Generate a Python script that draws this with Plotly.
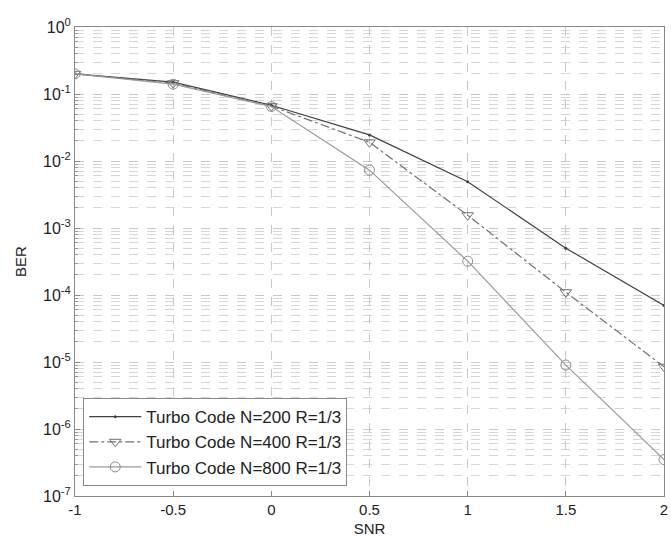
import plotly.graph_objects as go

snr = [-1, -0.5, 0, 0.5, 1, 1.5, 2]
ber_n200 = [0.20, 0.15, 0.068, 0.0245, 0.0049, 5.0e-4, 7.0e-5]
ber_n400 = [0.20, 0.145, 0.066, 0.019, 0.00155, 1.1e-4, 8.5e-6]
ber_n800 = [0.20, 0.14, 0.065, 0.0073, 3.2e-4, 9.0e-6, 3.5e-7]

names = ["Turbo Code N=200 R=1/3", "Turbo Code N=400 R=1/3", "Turbo Code N=800 R=1/3"]
ytick_vals = [1e-7, 1e-6, 1e-5, 1e-4, 1e-3, 1e-2, 1e-1, 1e0]
ytick_text = ["10<sup>-7</sup>", "10<sup>-6</sup>", "10<sup>-5</sup>", "10<sup>-4</sup>",
              "10<sup>-3</sup>", "10<sup>-2</sup>", "10<sup>-1</sup>", "10<sup>0</sup>"]
xtick_vals = [-1, -0.5, 0, 0.5, 1, 1.5, 2]
xtick_text = ["-1", "-0.5", "0", "0.5", "1", "1.5", "2"]

fig = go.Figure()
fig.add_trace(go.Scatter(x=snr, y=ber_n200, name=names[0], mode="lines+markers",
                         line=dict(color="#404040", width=1.2),
                         marker=dict(symbol="circle", size=3, color="#404040")))
fig.add_trace(go.Scatter(x=snr, y=ber_n400, name=names[1], mode="lines+markers",
                         line=dict(color="#707070", width=1.2, dash="dashdot"),
                         marker=dict(symbol="triangle-down-open", size=10, color="#707070",
                                     line=dict(width=1))))
fig.add_trace(go.Scatter(x=snr, y=ber_n800, name=names[2], mode="lines+markers",
                         line=dict(color="#9a9a9a", width=1.2),
                         marker=dict(symbol="circle-open", size=10, color="#8a8a8a",
                                     line=dict(width=1))))

fig.update_layout(
    width=671, height=542,
    margin=dict(l=75, r=3, t=27, b=46),
    paper_bgcolor="white", plot_bgcolor="white",
    font=dict(family="Liberation Sans, Arial, sans-serif", size=15, color="#222"),
    showlegend=True,
    legend=dict(x=0.014, y=0.021, xanchor="left", yanchor="bottom",
                bgcolor="white", bordercolor="#888", borderwidth=1,
                font=dict(size=17, color="#222"), itemwidth=52,
                tracegroupgap=0),
)
fig.update_xaxes(
    range=[-1, 2], tickvals=xtick_vals, ticktext=xtick_text,
    showline=True, linecolor="#888", linewidth=1, mirror=True,
    ticks="inside", ticklen=5, tickcolor="#888",
    showgrid=True, gridcolor="#c8c8c8", griddash="dash", gridwidth=1,
    zeroline=False, ticklabeloverflow="allow",
    title=dict(text="SNR", font=dict(size=15), standoff=6),
    tickfont=dict(size=15),
)
fig.update_yaxes(
    type="log", range=[-7, 0], tickvals=ytick_vals, ticktext=ytick_text,
    showline=True, linecolor="#888", linewidth=1, mirror=True,
    ticks="inside", ticklen=5, tickcolor="#888",
    showgrid=True, gridcolor="#c8c8c8", griddash="dash", gridwidth=1,
    zeroline=False,
    minor=dict(dtick="D1", showgrid=True, gridcolor="#d6d6d6", griddash="dash",
               ticks="inside", ticklen=3, tickcolor="#999"),
    title=dict(text="BER", font=dict(size=15), standoff=12),
    tickfont=dict(size=16),
)

fig.write_html("out.html")
